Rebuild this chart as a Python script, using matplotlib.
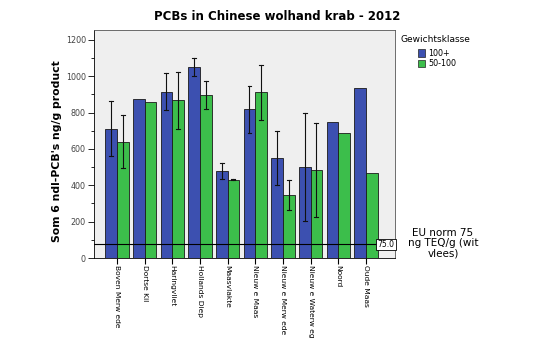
import matplotlib
matplotlib.use("Agg")
import matplotlib.pyplot as plt
import numpy as np
from matplotlib.patches import Rectangle

categories = ["Boven Merw ede", "Dortse Kil", "Haringvliet", "Hollands Diep", "Maasvlakte",
              "Nieuw e Maas", "Nieuw e Merw ede", "Nieuw e Waterw eg", "Noord", "Oude Maas"]
blue_vals = [710, 873, 915, 1051, 481, 819, 552, 503, 749, 936]
blue_lo = [561, None, 813, 1000, 435, 686, 404, 206, None, None]
blue_hi = [864, None, 1017, 1101, 521, 949, 697, 798, None, None]
green_vals = [640, 860, 868, 899, 431, 912, 347, 484, 690, 470]
green_lo = [497, None, 710, 820, 428, 760, 262, 224, None, None]
green_hi = [787, None, 1022, 973, 434, 1064, 428, 741, None, None]
norm_value = 75.0
series_names = ["100+", "50-100"]

blue = "#3C50B0"
green = "#3CBE4B"

W, H = 555, 344
fig = plt.figure(figsize=(W / 100, H / 100), dpi=100)
ax = fig.add_axes([93.5 / W, 1 - 258 / H, (395 - 93.5) / W, (258 - 30) / H])
ax.set_facecolor("#EFEFEF")

x = np.arange(len(categories))
bw = 0.42
ax.bar(x - bw / 2, blue_vals, bw, color=blue, edgecolor="#1a1a1a", linewidth=0.6, zorder=2)
ax.bar(x + bw / 2, green_vals, bw, color=green, edgecolor="#1a1a1a", linewidth=0.6, zorder=2)

def draw_err(xs, lo, hi):
    for xi, l, h in zip(xs, lo, hi):
        if l is None:
            continue
        ax.plot([xi, xi], [l, h], color="#111111", lw=0.8, zorder=3)
        for yy in (l, h):
            ax.plot([xi - 0.07, xi + 0.07], [yy, yy], color="#111111", lw=0.8, zorder=3)

draw_err(x - bw / 2, blue_lo, blue_hi)
draw_err(x + bw / 2, green_lo, green_hi)

ax.axhline(norm_value, color="black", lw=0.8, zorder=4)
ax.text(10.03, norm_value, f"{norm_value:.1f}", fontsize=5.5, ha="right", va="center",
        zorder=5, bbox=dict(boxstyle="square,pad=0.15", fc="white", ec="black", lw=0.6))

ax.set_xlim(-0.845, 10.05)
ax.set_ylim(0, 1255)
ax.set_yticks(np.arange(0, 1201, 200))
ax.set_yticks(np.arange(100, 1201, 200), minor=True)
ax.tick_params(axis="y", which="major", length=4, labelsize=5.8, labelcolor="#444444", width=0.6, pad=1.5)
ax.tick_params(axis="y", which="minor", length=2, width=0.6)
ax.set_xticks(x)
ax.set_xticklabels(categories, rotation=270, fontsize=5.4, va="top", ha="center")
ax.tick_params(axis="x", length=4, width=0.8, pad=1)
for s in ax.spines.values():
    s.set_linewidth(0.6)
    s.set_color("#555555")
ax.spines["left"].set_color("black")
ax.spines["bottom"].set_color("black")

fig.text(277 / W, 1 - 16 / H, "PCBs in Chinese wolhand krab - 2012", ha="center", va="center",
         fontsize=8.5, fontweight="bold")
fig.text(57 / W, 1 - 151 / H, "Som 6 ndl-PCB's ng/g product", rotation=90, ha="center",
         va="center", fontsize=7.8, fontweight="bold")

fig.text(401 / W, 1 - 39 / H, "Gewichtsklasse", fontsize=6.5, ha="left", va="center")
for i, (name, c) in enumerate(zip(series_names, [blue, green])):
    yy = 1 - (53 + 10.5 * i) / H
    fig.patches.append(Rectangle((418 / W - 0.0, yy - 3.5 / H), 7 / W, 7 / H,
                                 transform=fig.transFigure, fc=c, ec="#222222", lw=0.5))
    fig.text(428 / W, yy, name, fontsize=5.8, ha="left", va="center")

fig.text(443 / W, 1 - 243 / H, "EU norm 75\nng TEQ/g (wit\nvlees)", ha="center", va="center",
         fontsize=7.5, linespacing=1.0)

fig.savefig("out.png", dpi=100)
